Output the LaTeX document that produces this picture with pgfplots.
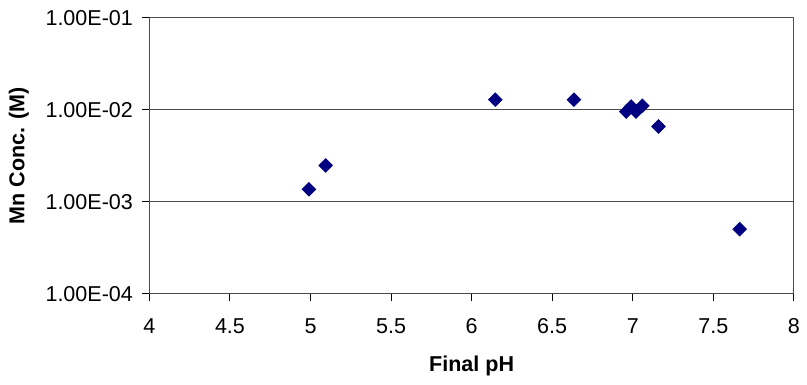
\documentclass[border=0pt]{standalone}
\usepackage{pgfplots}
\pgfplotsset{compat=1.18}
\usepackage{fontspec}
\setmainfont{Liberation Sans}
\definecolor{navy}{HTML}{000080}
\begin{document}
\fontsize{10.8pt}{12pt}\selectfont
\begin{tikzpicture}
\begin{axis}[
  scale only axis,
  width=323.5pt, height=138.5pt,
  xmin=4, xmax=8,
  ymode=log, ymin=1e-4, ymax=1e-1,
  xtick={4,4.5,...,8},
  ytick={1e-4,1e-3,1e-2,1e-1},
  yticklabels={1.00E-04,1.00E-03,1.00E-02,1.00E-01},
  yminorticks=false,
  /pgf/number format/assume math mode=true,
  tick align=outside,
  major tick length=3.5pt,
  tick style={black, line width=0.5pt},
  axis line style={black!70, line width=0.5pt},
  ymajorgrids,
  grid style={black!70, line width=0.5pt},
  xtick pos=bottom, ytick pos=left,
  xticklabel style={yshift=-5pt},
  yticklabel style={xshift=-1pt},
  xlabel={\bfseries Final pH},
  ylabel={\bfseries Mn Conc. (M)},
  xlabel style={yshift=-4pt},
  ylabel style={yshift=1pt},
  clip=false,
]
\addplot[only marks, mark=square*, mark size=2.4pt, mark options={rotate=45, fill=navy, draw=navy}, color=navy]
coordinates {
(4.99, 1.37e-3)
(5.094, 2.49e-3)
(6.147, 1.29e-2)
(6.635, 1.29e-2)
(6.96, 9.6e-3)
(6.99, 1.09e-2)
(7.02, 9.6e-3)
(7.06, 1.11e-2)
(7.16, 6.6e-3)
(7.664, 5.05e-4)
};
\end{axis}
\path (current axis.south west) ++(-75pt,-45.5pt) coordinate (bbA);
\path (current axis.north east) ++(5pt,9pt) coordinate (bbB);
\useasboundingbox (bbA) rectangle (bbB);
\end{tikzpicture}
\end{document}
